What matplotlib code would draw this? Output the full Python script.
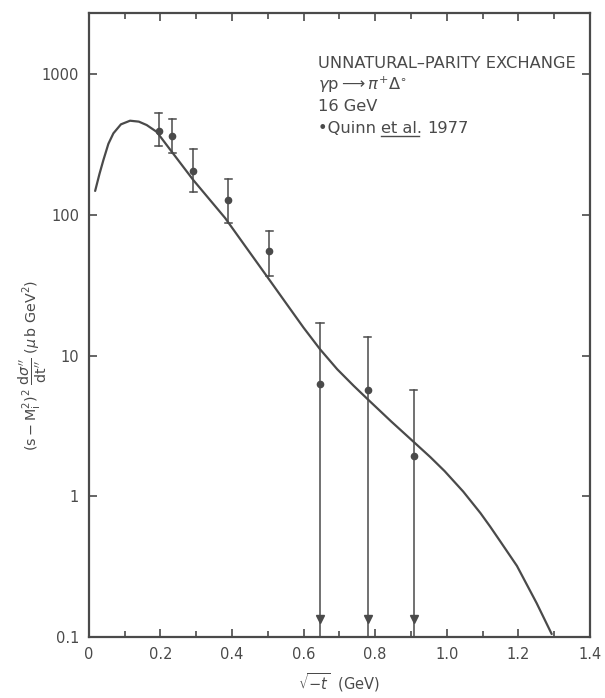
import numpy as np
import matplotlib
matplotlib.use('Agg')
import matplotlib.pyplot as plt
from matplotlib.ticker import FixedLocator, NullLocator

# ---- data ----
# Quinn et al. 1977 points: sqrt(-t), value, upper end of error bar, lower end
pt_x = [0.195, 0.234, 0.292, 0.390, 0.504, 0.646, 0.779, 0.908]
pt_y = [396, 364, 206, 128, 55, 6.25, 5.7, 1.94]
pt_hi = [527, 481, 294, 179, 77, 17.1, 13.5, 5.7]
pt_lo = [309, 277, 145, 87, 37, 0.1, 0.1, 0.1]
upper_limit = [False, False, False, False, False, True, True, True]

# model curve
curve_x = [0.018, 0.030, 0.041, 0.055, 0.069, 0.090, 0.1155, 0.140, 0.162,
           0.190, 0.232, 0.292, 0.381, 0.440, 0.500, 0.550, 0.600, 0.646,
           0.694, 0.740, 0.779, 0.845, 0.908, 0.954, 0.994, 1.046, 1.094,
           1.121, 1.149, 1.196, 1.251, 1.293]
curve_y = [148, 195, 245, 320, 380, 440, 467, 460, 435,
           389, 281, 177, 95, 58.6, 35.9, 23.8, 15.8, 11.1,
           8.0, 6.1, 4.9, 3.4, 2.43, 1.9, 1.51, 1.08, 0.76,
           0.61, 0.48, 0.32, 0.174, 0.105]

xticks = [0, 0.2, 0.4, 0.6, 0.8, 1.0, 1.2, 1.4]
xtick_labels = ['0', '0.2', '0.4', '0.6', '0.8', '1.0', '1.2', '1.4']
yticks = [0.1, 1, 10, 100, 1000]
ytick_labels = ['0.1', '1', '10', '100', '1000']

ink = '#4a4a4a'

fig = plt.figure(figsize=(6.05, 6.98), dpi=100)
ax = fig.add_axes([0.1466, 0.0874, 0.8286, 0.8936])

ax.plot(curve_x, curve_y, color=ink, lw=1.6, solid_capstyle='round')

for x, y, hi, lo, ul in zip(pt_x, pt_y, pt_hi, pt_lo, upper_limit):
    ax.plot([x, x], [lo, hi], color=ink, lw=1.1)
    ax.plot([x - 0.01, x + 0.01], [hi, hi], color=ink, lw=1.1)
    if ul:
        ax.plot(x, 0.135, marker='v', color=ink, ms=6, clip_on=False)
    else:
        ax.plot([x - 0.01, x + 0.01], [lo, lo], color=ink, lw=1.1)
    ax.plot(x, y, 'o', color=ink, ms=4.5)

ax.set_yscale('log')
ax.set_xlim(0, 1.4)
ax.set_ylim(0.1, 2710)

ax.xaxis.set_major_locator(FixedLocator(xticks))
ax.set_xticklabels(xtick_labels)
ax.xaxis.set_minor_locator(FixedLocator([0.1, 0.3, 0.5, 0.7, 0.9, 1.1, 1.3]))
ax.yaxis.set_major_locator(FixedLocator(yticks))
ax.set_yticklabels(ytick_labels)
ax.yaxis.set_minor_locator(NullLocator())

ax.tick_params(which='both', direction='in', top=True, right=True,
               color=ink, width=1.2, labelcolor=ink, labelsize=10.5, pad=7)
ax.tick_params(which='major', length=6)
ax.tick_params(which='minor', length=4)
for s in ax.spines.values():
    s.set_color(ink)
    s.set_linewidth(1.6)

ax.set_xlabel(r'$\sqrt{-t}$  (GeV)', color=ink, fontsize=10.5, labelpad=7)
ax.set_ylabel(r'$(\mathrm{s}-\mathrm{M}_\mathrm{i}^2)^2\ \dfrac{\mathrm{d}\sigma^{\prime\prime}}{\mathrm{dt}^{\prime\prime}}\ (\mu\,\mathrm{b\ GeV}^2)$',
              color=ink, fontsize=10.3)
ax.yaxis.set_label_coords(-0.08, 0.436)

# annotation block
tx = 0.457
fs = 11.7
ax.text(tx, 0.913, 'UNNATURAL\u2013PARITY EXCHANGE', transform=ax.transAxes,
        color=ink, fontsize=fs)
ax.text(tx, 0.877, r'$\gamma$p$\longrightarrow\pi^{+}\Delta^{\circ}$', transform=ax.transAxes,
        color=ink, fontsize=fs)
ax.text(tx, 0.843, '16 GeV', transform=ax.transAxes, color=ink, fontsize=fs)
t1 = ax.text(tx, 0.808, '\u2022Quinn ', transform=ax.transAxes, color=ink, fontsize=fs)
fig.canvas.draw()
r = fig.canvas.get_renderer()
bb = t1.get_window_extent(r).transformed(ax.transAxes.inverted())
t2 = ax.text(bb.x1, 0.808, 'et al.', transform=ax.transAxes, color=ink, fontsize=fs)
bb2 = t2.get_window_extent(r).transformed(ax.transAxes.inverted())
ax.plot([bb2.x0, bb2.x1 - 0.005], [0.803, 0.803], transform=ax.transAxes,
        color=ink, lw=1.0)
ax.text(bb2.x1 + 0.01, 0.808, '1977', transform=ax.transAxes, color=ink, fontsize=fs)

fig.savefig('out.png', dpi=100)
